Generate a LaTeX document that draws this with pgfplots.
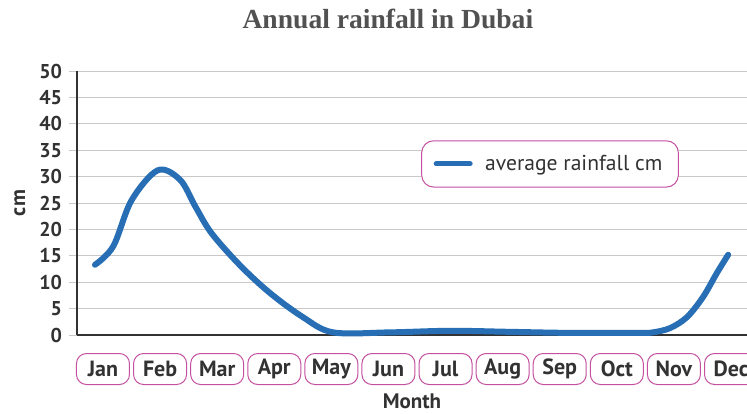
\documentclass[border=0pt]{standalone}
\usepackage{fontspec}
\setmainfont{PT Sans}
\newfontfamily\titlefont{Liberation Serif}
\usepackage{pgfplots}
\pgfplotsset{compat=1.18}

\definecolor{rainblue}{RGB}{40,110,180}
\definecolor{boxpink}{RGB}{196,80,160}
\definecolor{txtgray}{RGB}{50,50,50}
\definecolor{gridgray}{RGB}{200,200,200}

\begin{document}
\begin{tikzpicture}
\useasboundingbox (-38.5pt,-39pt) rectangle (335pt,167.5pt);
\begin{axis}[
  scale only axis,
  width=335pt, height=132pt,
  xmin=-0.455, xmax=11.28,
  ymin=0, ymax=50,
  axis x line=bottom, axis y line=left,
  axis line style={-, txtgray, line width=0.8pt},
  xtick={0,...,11},
  xticklabels={Jan,Feb,Mar,Apr,May,Jun,Jul,Aug,Sep,Oct,Nov,Dec},
  x tick style={draw=none},
  ytick={0,5,...,50},
  y tick style={gridgray, line width=0.5pt},
  major tick length=4pt,
  tick align=outside,
  ymajorgrids,
  grid style={gridgray, line width=0.5pt},
  /pgf/number format/assume math mode=true,
  tick label style={font=\fontsize{10}{12}\selectfont\bfseries, text=txtgray},
  xticklabel style={draw=boxpink, line width=0.5pt, rounded corners=5pt,
    minimum width=26.5pt, minimum height=15.5pt, inner sep=0pt,
    anchor=north, yshift=-5pt, fill=white,
    font=\fontsize{11}{13}\selectfont\bfseries},
  xlabel={Month},
  xlabel style={font=\fontsize{10.5}{12}\selectfont\bfseries, text=txtgray, yshift=-1pt},
  ylabel={cm},
  ylabel style={font=\fontsize{10.5}{12}\selectfont\bfseries, text=txtgray},
  legend style={at={(0.706,0.648)}, anchor=center, draw=boxpink,
    rounded corners=6pt, line width=0.5pt, inner xsep=6pt, inner ysep=5pt,
    font=\fontsize{10.8}{13}\selectfont, text=txtgray},
  legend image code/.code={\draw[#1, line width=2.5pt] (0pt,0pt) -- (17pt,0pt);
    \path (21pt,0pt);},
  clip=false,
]
\addplot[rainblue, line width=3pt, smooth, tension=0.55, line cap=round] coordinates {
  (-0.14,13.3) (0.18,16.8) (0.50,25.5) (0.96,31.2)
  (1.35,29.4) (1.62,24.3) (1.90,19.3) (2.40,13.2) (2.92,8.0)
  (3.50,3.4) (4.03,0.5) (5.03,0.5) (6.08,0.8) (7.13,0.6)
  (8.18,0.4) (9.40,0.4) (9.63,0.5) (9.93,1.3) (10.23,3.4)
  (10.51,7.2) (10.75,11.7) (10.95,15.2)
};
\legend{average rainfall cm}
\node[font=\titlefont\fontsize{13.8}{16}\selectfont\bfseries, text=txtgray!85!white]
  at (rel axis cs:0.464,1.0) [yshift=26pt] {Annual rainfall in Dubai};
\end{axis}
\end{tikzpicture}
\end{document}
